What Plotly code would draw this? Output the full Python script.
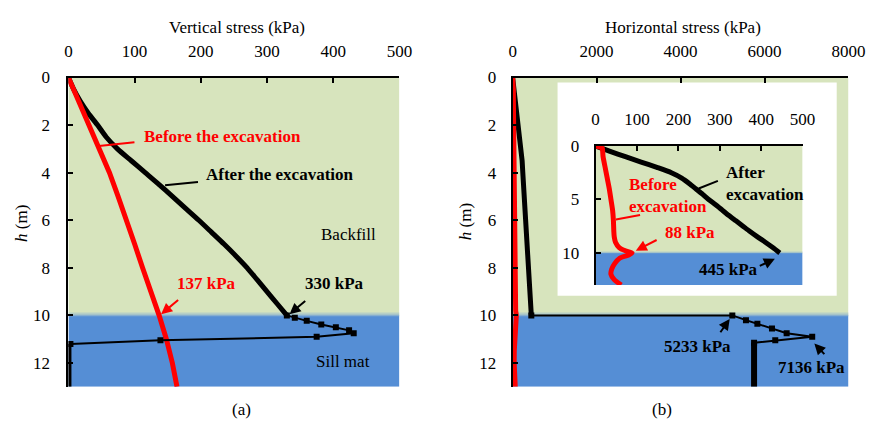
import plotly.graph_objects as go

# ---------------- data ----------------
# (a) vertical stress
h_before_v = [0, 1, 2, 3, 4, 5, 6, 7, 8, 9, 10, 11, 12, 13]
s_before_v = [0, 16, 32, 46, 62, 75, 88, 100, 112, 125, 137, 148, 157, 164]

h_after_v = [0, 0.5, 1, 1.5, 2, 2.5, 3, 3.5, 4, 4.5, 5, 5.5, 6, 6.5, 7, 7.5, 8, 8.5, 9, 9.5, 10]
s_after_v = [0, 8, 18, 30, 44, 57, 74, 95, 116, 137, 157, 177, 197, 216, 235, 253, 270, 285, 300, 315, 330]

h_after_v_sill = [10, 10.1, 10.23, 10.38, 10.5, 10.63, 10.75, 10.9, 11.05, 11.2]
s_after_v_sill = [330, 342, 360, 382, 404, 424, 431, 375, 139, 3]

h_after_v_bot = [11.2, 13]
s_after_v_bot = [0, 0]

# (b) horizontal stress
h_before_h = [0, 0.2, 0.5, 1, 2, 3, 4, 5, 6, 7, 8, 8.5, 9, 9.5, 9.8, 10, 10.2, 10.5, 11, 11.5, 12, 12.5, 13]
s_before_h = [0, 16, 17, 18, 23, 28, 33, 37, 41, 43, 44, 45, 48, 57, 72, 88, 80, 58, 46, 39, 37, 45, 62]

h_after_h = [0, 0.5, 1, 1.5, 2, 2.5, 3, 3.5, 4, 4.5, 5, 5.5, 6, 6.5, 7, 7.5, 8, 8.5, 9, 9.5, 10]
s_after_h = [0, 35, 72, 110, 148, 183, 208, 226, 242, 258, 273, 290, 306, 322, 339, 356, 373, 391, 410, 428, 445]

h_after_h_sill = [10, 10.0, 10.2, 10.35, 10.55, 10.75, 10.9, 11.05, 11.15]
s_after_h_sill = [445, 5233, 5558, 5830, 6178, 6527, 7136, 6256, 5751]

h_after_h_bot = [11.15, 13]
s_after_h_bot = [5751, 5751]

x_ticks_v = [0, 100, 200, 300, 400, 500]
x_ticks_h = [0, 2000, 4000, 6000, 8000]
x_ticks_in = [0, 100, 200, 300, 400, 500]
y_ticks = [0, 2, 4, 6, 8, 10, 12]
y_ticks_in = [0, 5, 10]

# ---------------- styling ----------------
W, H = 885, 421
GREEN = "#D7E4BD"
BLUE = "#558ED5"
RED = "#FF0000"
FONT = "Liberation Serif, Times New Roman, serif"
FS = 17


def px(xp):
    return xp / W


def py(yp):
    return 1 - yp / H


fig = go.Figure()

# traces: (a)
fig.add_trace(go.Scatter(x=s_after_v, y=h_after_v, mode="lines", line=dict(color="black", width=5, shape="spline", smoothing=0.6),
                         xaxis="x", yaxis="y", showlegend=False))
fig.add_trace(go.Scatter(x=s_before_v, y=h_before_v, mode="lines", line=dict(color=RED, width=5),
                         xaxis="x", yaxis="y", showlegend=False))
fig.add_trace(go.Scatter(x=s_after_v_sill, y=h_after_v_sill, mode="lines+markers",
                         line=dict(color="black", width=2),
                         marker=dict(symbol="square", size=6, color="black"),
                         xaxis="x", yaxis="y", showlegend=False))
fig.add_trace(go.Scatter(x=s_after_v_bot, y=h_after_v_bot, mode="lines", line=dict(color="black", width=6),
                         xaxis="x", yaxis="y", showlegend=False, cliponaxis=False))

# traces: (b)
fig.add_trace(go.Scatter(x=s_after_h, y=h_after_h, mode="lines", line=dict(color="black", width=5),
                         xaxis="x2", yaxis="y2", showlegend=False))
fig.add_trace(go.Scatter(x=s_before_h, y=h_before_h, mode="lines", line=dict(color=RED, width=5),
                         xaxis="x2", yaxis="y2", showlegend=False))
fig.add_trace(go.Scatter(x=s_after_h_sill, y=h_after_h_sill, mode="lines+markers",
                         line=dict(color="black", width=2),
                         marker=dict(symbol="square", size=6, color="black"),
                         xaxis="x2", yaxis="y2", showlegend=False))
fig.add_trace(go.Scatter(x=s_after_h_bot, y=h_after_h_bot, mode="lines", line=dict(color="black", width=6),
                         xaxis="x2", yaxis="y2", showlegend=False))

# traces: inset
fig.add_trace(go.Scatter(x=s_after_h, y=h_after_h, mode="lines", line=dict(color="black", width=5, shape="spline", smoothing=0.6),
                         xaxis="x3", yaxis="y3", showlegend=False))
fig.add_trace(go.Scatter(x=s_before_h, y=h_before_h, mode="lines", line=dict(color=RED, width=5, shape="spline", smoothing=0.6),
                         xaxis="x3", yaxis="y3", showlegend=False, cliponaxis=False))

# ---------------- backgrounds ----------------
shapes = []


def bands(xr, yr, x0, x1):
    out = []
    out.append(dict(type="rect", xref=xr, yref=yr, x0=x0, x1=x1, y0=0, y1=10,
                    fillcolor=GREEN, line=dict(width=0), layer="below"))
    out.append(dict(type="rect", xref=xr, yref=yr, x0=x0, x1=x1, y0=10, y1=13,
                    fillcolor=BLUE, line=dict(width=0), layer="below"))
    out.append(dict(type="rect", xref=xr, yref=yr, x0=x0, x1=x1, y0=9.88, y1=9.96,
                    fillcolor="#B7CFC6", line=dict(width=0), layer="below"))
    out.append(dict(type="rect", xref=xr, yref=yr, x0=x0, x1=x1, y0=9.96, y1=10.04,
                    fillcolor="#86AED0", line=dict(width=0), layer="below"))
    return out


shapes += bands("x", "y", 0, 500)
shapes += bands("x2", "y2", 0, 8000)
# white inset box (in subplot-2 axis units so it sits above its background)
shapes.append(dict(type="rect", xref="x2", yref="y2", x0=1070, x1=7720, y0=0.21, y1=9.17,
                   fillcolor="white", line=dict(width=0), layer="below"))
shapes += bands("x3", "y3", 0, 500)

# ---------------- axes ----------------
ax_common = dict(showline=True, linecolor="black", linewidth=2, ticks="inside", ticklen=5,
                 tickwidth=2, tickcolor="black", showgrid=False, zeroline=False,
                 tickfont=dict(family=FONT, size=FS, color="black"), fixedrange=True)

fig.update_layout(
    width=W, height=H, margin=dict(l=0, r=0, t=0, b=0),
    paper_bgcolor="white", plot_bgcolor="rgba(0,0,0,0)",
    font=dict(family=FONT, size=FS, color="black"),
    shapes=shapes,
    xaxis=dict(domain=[px(66), px(405)], range=[0, 500], side="top", anchor="y",
               tickvals=x_ticks_v, ticklabelstandoff=12, **ax_common),
    yaxis=dict(domain=[py(386), py(70)], range=[13, 0], anchor="x",
               tickvals=y_ticks, ticklabelstandoff=13, **ax_common),
    xaxis2=dict(domain=[px(521), px(865)], range=[0, 8000], side="top", anchor="y2",
                tickvals=x_ticks_h, ticklabelstandoff=12, **ax_common),
    yaxis2=dict(domain=[py(386), py(70)], range=[13, 0], anchor="x2",
                tickvals=y_ticks, ticklabelstandoff=11, **ax_common),
    xaxis3=dict(domain=[px(606), px(818)], range=[0, 500], side="top", anchor="y3",
                tickvals=x_ticks_in, ticklabelstandoff=12, **ax_common),
    yaxis3=dict(domain=[py(282), py(140)], range=[13, 0], anchor="x3",
                tickvals=y_ticks_in, ticklabelstandoff=11, **ax_common),
)

# ---------------- annotations ----------------
ann = []


def text(t, xp, yp, color="black", bold=False, xanchor="center", align="center", angle=0):
    s = "<b>%s</b>" % t if bold else t
    ann.append(dict(text=s, x=px(xp), y=py(yp), xref="paper", yref="paper", showarrow=False,
                    xanchor=xanchor, yanchor="middle", align=align, textangle=angle,
                    font=dict(family=FONT, size=FS, color=color)))


def arrow(xr, yr, tail, tip, color="black", head=True):
    ann.append(dict(text="", xref=xr, yref=yr, axref=xr, ayref=yr, x=tip[0], y=tip[1],
                    ax=tail[0], ay=tail[1], showarrow=True, arrowcolor=color,
                    arrowwidth=2, arrowhead=2 if head else 0, arrowsize=1.1, standoff=0))


# titles
text("Vertical stress (kPa)", 238.5, 19)
text("Horizontal stress (kPa)", 695.5, 19)
text("<i>h</i> (m)", 18, 219, angle=-90)
text("<i>h</i> (m)", 473, 217, angle=-90)
text("(a)", 243.5, 409)
text("(b)", 674, 409)

# panel (a)
text("Before the excavation", 223.5, 130, color=RED, bold=True)
text("After the excavation", 282.5, 169, bold=True)
text("Backfill", 352.5, 230)
text("Sill mat", 347.5, 360)
text("137 kPa", 207.5, 280, color=RED, bold=True)
text("330 kPa", 339, 280, bold=True)
arrow("x", "y", (102, 2.72), (46, 2.88), color=RED, head=False)
arrow("x", "y", (198, 4.39), (146, 4.53), head=False)
arrow("x", "y", (168, 9.3), (s_before_v[10] + 3, h_before_v[10] - 0.05), color=RED)
arrow("x", "y", (360, 9.34), (s_after_v[-1] + 4, h_after_v[-1] - 0.05))

# panel (b)
text("5233 kPa", 710, 344.5, bold=True)
text("7136 kPa", 827.5, 366, bold=True)
arrow("x2", "y2", (4924, 10.77), (5171, 10.15))
arrow("x2", "y2", (7459, 11.69), (7187, 11.18))

# inset
text("After<br>excavation", 737, 178, bold=True, xanchor="left", align="left")
text("Before<br>excavation", 638, 191, color=RED, bold=True, xanchor="left", align="left")
text("88 kPa", 702.5, 228, color=RED, bold=True)
text("445 kPa", 742.5, 266.5, bold=True)
arrow("x3", "y3", (299, 3.21), (249, 3.97), head=False)
arrow("x3", "y3", (111, 6.42), (49, 6.88), color=RED, head=False)
arrow("x3", "y3", (151, 8.72), (97, 9.79), color=RED)
arrow("x3", "y3", (393, 11.28), (433, 10.55))

fig.update_layout(annotations=ann)

fig.write_html("out.html", post_script="document.body.style.margin='0';")
